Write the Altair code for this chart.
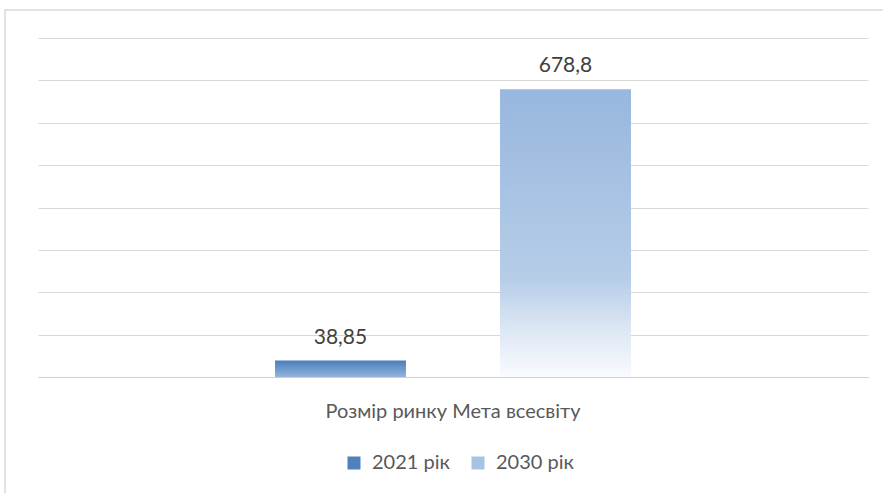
import altair as alt
import pandas as pd

category = "Розмір ринку Мета всесвіту"
years = ["2021 рік", "2030 рік"]
values = [38.85, 678.8]

df = pd.DataFrame({"cat": [category] * len(years), "year": years, "value": values})
FONT = "Lato"

x_enc = alt.X("cat:N", title=None,
              scale=alt.Scale(paddingInner=0, paddingOuter=0.0149),
              axis=alt.Axis(labelAngle=0, ticks=False, tickSize=0, domain=True,
                            domainColor="#d0d0d0", domainWidth=1,
                            labelFontSize=20, labelColor="#595959", labelFont=FONT,
                            labelPadding=40, labelBaseline="alphabetic", labelLimit=1000,
                            grid=False))
xo_enc = alt.XOffset("year:N", scale=alt.Scale(domain=years, paddingInner=0.418, paddingOuter=1))
y_enc = alt.Y("value:Q", title=None,
              scale=alt.Scale(domain=[0, 800], nice=False),
              axis=alt.Axis(values=list(range(0, 801, 100)), labels=False, ticks=False,
                            domain=False, grid=True, gridColor="#d9d9d9", gridWidth=1))

base = alt.Chart(df)

legend_layer = base.mark_bar(opacity=0).encode(
    x=x_enc, xOffset=xo_enc, y=y_enc,
    color=alt.Color("year:N", title=None,
                    scale=alt.Scale(domain=years, range=["#4f81bd", "#a7c2e3"]),
                    legend=alt.Legend(orient="none", direction="horizontal",
                                      legendX=306, legendY=415,
                                      symbolType="square", symbolSize=169,
                                      symbolOpacity=1, symbolStrokeWidth=0,
                                      labelFontSize=20, labelColor="#595959", labelFont=FONT,
                                      labelOffset=8, columnPadding=18, labelLimit=1000)),
)

g1 = alt.Gradient(gradient="linear", x1=0, x2=0, y1=0, y2=1,
                  stops=[alt.GradientStop(color="#4a7ebb", offset=0),
                         alt.GradientStop(color="#93b4dc", offset=1)])
g2 = alt.Gradient(gradient="linear", x1=0, x2=0, y1=0, y2=1,
                  stops=[alt.GradientStop(color="#97b7de", offset=0),
                         alt.GradientStop(color="#b6cde8", offset=0.66),
                         alt.GradientStop(color="#dce6f4", offset=0.83),
                         alt.GradientStop(color="#f9fbfe", offset=1)])

bar1 = base.transform_filter(alt.datum.year == years[0]).mark_bar(fill=g1).encode(
    x=x_enc, xOffset=xo_enc, y=y_enc)
bar2 = base.transform_filter(alt.datum.year == years[1]).mark_bar(fill=g2).encode(
    x=x_enc, xOffset=xo_enc, y=y_enc)

labels = base.transform_calculate(
    label="replace(toString(datum.value), '.', ',')"
).mark_text(dy=-17, fontSize=21, color="#404040", font=FONT, baseline="alphabetic").encode(
    x=x_enc, xOffset=xo_enc, y=y_enc, text="label:N")

border = alt.Chart(pd.DataFrame({"a": [0]})).mark_rect(
    fill=None, stroke="#d9d9d9", strokeWidth=1.5, clip=False
).encode(x=alt.value(-33), x2=alt.value(870), y=alt.value(-28), y2=alt.value(480))

chart = alt.layer(border, legend_layer, bar1, bar2, labels).properties(
    width=830, height=339,
    autosize=alt.AutoSizeParams(type="none"),
    padding={"left": 38, "top": 38, "right": 15, "bottom": 116},
    background="white",
).configure_view(strokeWidth=0)

chart.save("out.html", embed_options={"renderer": "svg", "actions": False})
